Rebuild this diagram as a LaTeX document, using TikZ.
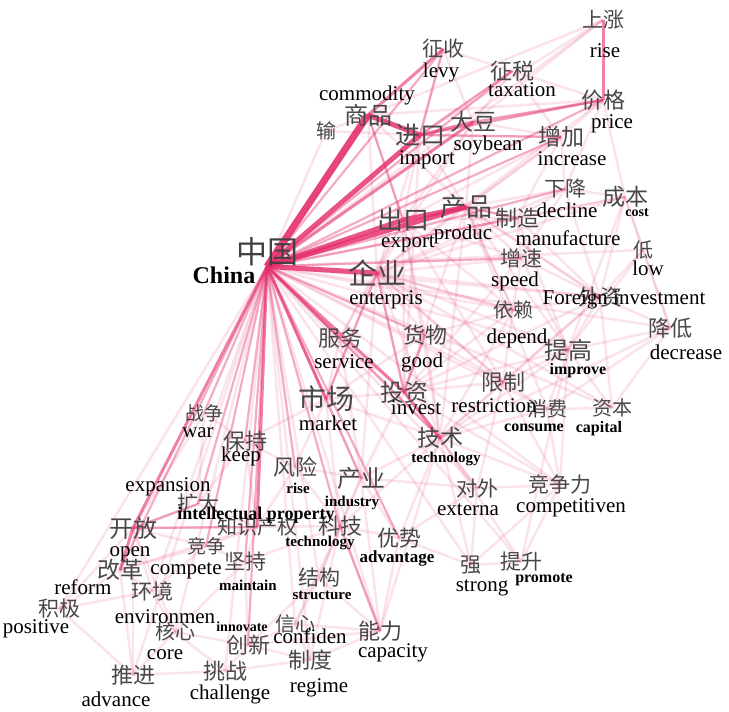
\documentclass[tikz,border=0pt]{standalone}
\usepackage{fontspec}
\setmainfont{Liberation Serif}
\newfontfamily\cjk{Noto Sans CJK SC}
\usepackage{tikz}
\usetikzlibrary{backgrounds}
\definecolor{edgepink}{RGB}{229,46,110}
\definecolor{cngray}{RGB}{72,72,72}

\begin{document}
\begin{tikzpicture}[x=1pt,y=-1pt,
  cn/.style={font=\cjk\fontsize{#1}{#1}\selectfont, text=cngray, inner sep=0pt},
  en/.style={font=\fontsize{21}{21}\selectfont, inner sep=0pt},
  enb/.style={font=\bfseries\fontsize{#1}{#1}\selectfont, inner sep=0pt},
  e0/.style={draw=edgepink, line width=2.5pt, opacity=0.13},
  e1/.style={draw=edgepink, line width=2.2pt, opacity=0.4},
  e2/.style={draw=edgepink, line width=3pt, opacity=0.6},
  e3/.style={draw=edgepink, line width=5pt, opacity=0.82},
  e4/.style={draw=edgepink, line width=7pt, opacity=0.9}]

\useasboundingbox (0,0) rectangle (729,712);

%---------------------------------------
% Chinese words (name/x/y/size/text)
%---------------------------------------
\node[cn=31, text=black!75] (zg) at (267,252) {中国};
\foreach \n/\x/\y/\s/\t in {
  sp/368/115/24/商品, shu/326/131/20/输, jk/420/135/25/进口,
  dd/473/122/23/大豆, zs/443/49/21/征收, zsh/512/71/22/征税,
  sz/603/20/21/上涨, jg/603/100/22/价格, zj/561/137/23/增加,
  ck/403/220/26/出口, cp/466/207/26/产品, zz/517/218/22/制造,
  xj/565/189/21/下降, cb/625/197/23/成本, di/643/250/20/低,
  zsu/521/258/21/增速, wz/600/297/22/外资, qy/377/273/29/企业,
  yl/513/310/20/依赖, jd/670/328/22/降低, tg/568/350/24/提高,
  fw/340/338/22/服务, hw/425/335/22/货物, sc/326/399/28/市场,
  tz/404/392/24/投资, xz/503/382/22/限制, xf/547/409/20/消费,
  zb/612/408/20/资本, js/440/438/23/技术, zzh/204/413/19/战争,
  bc/245/441/22/保持, fx/295/467/22/风险, cy/361/478/24/产业,
  dw/477/488/21/对外, jzl/560/485/21/竞争力, kd/198/504/21/扩大,
  zscq/257/527/20/知识产权, kf/133/528/24/开放, kj/340/526/22/科技,
  ys/399/538/22/优势, jz/206/546/19/竞争, jc/245/562/21/坚持,
  gg/120/570/23/改革, hj/152/591/21/环境, jgou/319/578/21/结构,
  qiang/471/565/21/强, ts/521/562/21/提升, jj/59/609/21/积极,
  hx/175/632/20/核心, cx/248/645/22/创新, xx/295/624/20/信心,
  nl/380/631/22/能力, tj/133/675/22/推进, tzh/225/671/22/挑战,
  zd/310/660/22/制度}
  \node[cn=\s] (\n) at (\x,\y) {\t};

%---------------------------------------
% English labels
%---------------------------------------
\node[enb=24] (zg-en) at (224,275) {China};
\foreach \n/\x/\y/\t in {
  sp/367/95/commodity, jk/427/160/import, dd/488/145/soybean,
  zs/441/72/levy, zsh/522/90/taxation, sz/605/51/rise,
  jg/612/124/price, zj/572/159/increase, ck/408/244/export,
  cp/463/234/produc, zz/568/238/manufacture, xj/567/210/decline,
  di/648/268/low, zsu/515/281/speed, wz/624/300/Foreign investment,
  qy/386/300/enterpris, yl/517/338/depend, jd/686/352/decrease,
  fw/344/362/service, hw/422/362/good, sc/328/423/market,
  tz/416/408/invest, xz/494/406/restriction, zzh/198/433/war,
  bc/241/456/keep, dw/468/510/externa, jzl/571/508/competitiven,
  kd/168/487/expansion, kf/130/554/open, jz/186/571/compete,
  gg/83/587/reform, hj/165/617/environmen, qiang/482/588/strong,
  jj/36/629/positive, hx/165/655/core, xx/310/636/confiden,
  nl/393/653/capacity, tj/116/699/advance, tzh/230/694/challenge,
  zd/319/688/regime}
  \node[en] (\n-en) at (\x,\y) {\t};
\foreach \n/\x/\y/\s/\t in {
  cb/637/213/14/cost, tg/578/371/16/improve, xf/534/428/16/consume,
  zb/599/429/16/capital, js/446/459/15/technology, fx/298/488/15/rise,
  cy/352/503/15/industry, zscq/256/515/18/intellectual property,
  kj/320/543/15/technology, ys/397/558/17/advantage,
  jc/248/585/15/maintain, jgou/322/595/15/structure,
  ts/544/580/16/promote, cx/242/627/14/innovate}
  \node[enb=\s] (\n-en) at (\x,\y) {\t};

%---------------------------------------
% Links (behind the words)
%---------------------------------------
\begin{scope}[on background layer]
  \fill[white] (0,0) rectangle (729,712);

  % faint co-occurrence links
  \foreach \a/\b in {jk/jg, dd/jg, sp/jg, jk/zj, dd/zj, zs/zsh, zs/jk,
    zsh/jk, zsh/dd, sz/dd, sz/jk, sz/sp, zsh/jg, jg/zj, jg/cb, zj/xj,
    zj/cp, jk/cp, dd/cp, sp/ck, sp/cp, jk/ck, dd/ck, sp/shu, shu/jk,
    zs/dd, jg/xj, zsh/zj,
    cp/zz, cp/xj, zz/xj, xj/cb, cb/di, cb/jd, di/jd, cb/zz, zz/zsu,
    zsu/cp, zsu/qy, zsu/wz, wz/qy, wz/cp, wz/yl, yl/qy, yl/cp, tg/wz,
    tg/jd, jd/wz, tg/qy, tg/cp, tg/js, di/wz, cb/wz, jd/zb, zb/xf,
    xf/xz, xz/tz, xz/qy, xz/wz, xf/tg, zb/tg, zb/wz, ck/zz, ck/zsu,
    ck/yl, cb/tg, di/tg, jd/xf, zz/wz,
    cp/tz, ck/hw, ck/fw, qy/xz, qy/yl, zsu/tz, yl/xz, wz/tz, tg/xz,
    tg/tz, zz/qy, xj/qy, cb/qy, dd/qy, jg/qy, zj/qy, zj/ck, zz/tg,
    hw/sc, fw/js, dw/tz, jzl/tz, jzl/xz, dw/cy, cy/ys, zsu/yl, zsu/tg,
    xj/wz, xj/zsu, zj/zz, cp/yl, cp/wz, hw/yl, yl/js, wz/js, jd/js,
    qy/zb, cp/xf, ck/xz,
    qy/fw, qy/hw, qy/sc, qy/tz, qy/js, fw/sc, hw/tz, sc/tz, sc/js,
    js/cy, js/dw, js/jzl, dw/jzl, jzl/tg, jzl/qiang, qiang/ts,
    ts/jzl, ts/tg, dw/qiang, js/kj, js/ys, tz/cy, cy/kj, cy/fx, fx/sc,
    fx/kj, kj/ys, ys/nl, kj/nl, nl/js, dw/ys, ck/js, cp/js, qy/cy,
    sp/qy, jk/qy, ck/tz, jk/tz, hw/js, xz/js, xf/js, jzl/xf, dw/xz,
    ts/js, qiang/js, ys/qiang, ck/qy, fw/tz, hw/xz, yl/tz,
    kf/kd, kf/zscq, kf/jz, kd/zscq, zscq/jc, zscq/bc, bc/sc, bc/fx,
    jz/jc, jz/hj, gg/hj, gg/jj, jj/kf, jj/tj, hj/hx, hx/cx, cx/xx,
    xx/zd, zd/tzh, tzh/cx, tzh/hx, tj/hx, tj/kf, cx/jgou, jgou/kj,
    xx/nl, zd/nl, hx/jc, jc/cx, jgou/xx, zzh/kf, zzh/bc, kd/zzh,
    kf/hj, gg/jz, jc/kj, zscq/kj, zscq/fx, bc/kd, tj/tzh, cx/nl,
    jgou/nl, zd/cx, jz/zscq, hx/kf, sc/kj, sc/cy, fw/cy, zd/kj,
    gg/zscq, jj/hj, tj/gg, nl/cy, jgou/cy, xx/kj}
    \draw[e0] (\a.center) -- (\b.center);

  % hub links, faint
  \foreach \b in {wz, yl, tg, xz, cb, di, jd, xf, zb, dw, jzl, qiang,
    ts, nl, zd, xx, hj, hx, jgou, tj, tzh, jj, sz, shu}
    \draw[e0] (zg.south) -- (\b.center);

  % hub links, medium
  \foreach \b in {js, gg, zzh, bc, kd, cy, fx, kj, hw, jz, zs, zsh, jg,
    zz, xj, zj, zsu, jc, ys, cx}
    \draw[e1] (zg.south) -- (\b.center);
  \foreach \a/\b in {jk/jg, dd/jg, jk/zj, zs/jk, kf/zscq, kf/kd,
    nl/kj, qy/sc, qy/tz, hw/tz, cp/zz, zsh/jk, sp/ck}
    \draw[e1] (\a.center) -- (\b.center);

  % stronger links
  \foreach \b in {sc, fw, kf, zscq, tz, dd}
    \draw[e2] (zg.south) -- (\b.center);
  \foreach \a/\b in {jk/dd, sz/jg, sp/zs, kf/gg, tz/js}
    \draw[e2] (\a.center) -- (\b.center);

  % strongest links
  \foreach \b in {jk, ck, cp, qy}
    \draw[e3] (zg.south) -- (\b.center);
  \draw[e3] (sp.center) -- (jk.center);
  \draw[e3] (ck.center) -- (cp.center);
  \draw[e4] (zg.south) -- (sp.center);
\end{scope}

\end{tikzpicture}
\end{document}
